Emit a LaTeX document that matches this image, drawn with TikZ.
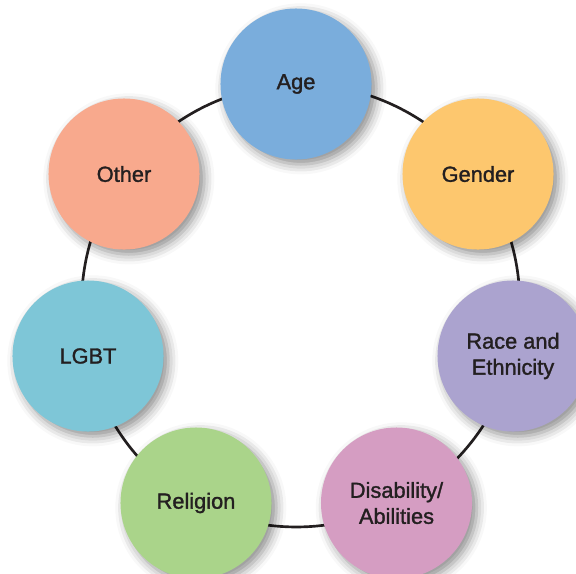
\documentclass[tikz,border=0pt]{standalone}
\usepackage{fontspec}
\setmainfont{Liberation Sans}
\newfontfamily\bubblefont{Liberation Sans}[FakeBold=1.4]
\usetikzlibrary{shadows.blur,backgrounds}
\definecolor{inkcol}{HTML}{231F20}
\definecolor{agecol}{HTML}{7AADDC}
\definecolor{gendercol}{HTML}{FDC76E}
\definecolor{racecol}{HTML}{ABA3CF}
\definecolor{disabcol}{HTML}{D59DC2}
\definecolor{religcol}{HTML}{AAD48A}
\definecolor{lgbtcol}{HTML}{7EC6D7}
\definecolor{othercol}{HTML}{F8A98D}

\begin{document}
\begin{tikzpicture}[x=0.025cm, y=-0.025cm,
    bubble/.style={circle, minimum size=3.775cm, inner sep=0pt, align=center, text=inkcol,
      font=\bubblefont\fontsize{15.5}{18.5}\selectfont,
      blur shadow={shadow xshift=0.12cm, shadow yshift=-0.12cm, shadow blur radius=0.25cm, shadow opacity=45}},
    ring/.style={line width=1.9pt, draw=inkcol, looseness=0.9}]
    \useasboundingbox (0,0) rectangle (576,573);

    \node[bubble, fill=agecol] (age) at (296,84) {Age};
    \node[bubble, fill=gendercol] (gender) at (478,174) {Gender};
    \node[bubble, fill=racecol] (race) at (513,356) {Race and\\Ethnicity};
    \node[bubble, fill=disabcol] (disab) at (396.5,503) {Disability/\\Abilities};
    \node[bubble, fill=religcol] (relig) at (196,503) {Religion};
    \node[bubble, fill=lgbtcol] (lgbt) at (88,356) {LGBT};
    \node[bubble, fill=othercol] (other) at (124,174) {Other};

    % ring runs behind the bubbles
    \begin{scope}[on background layer]
        \draw[ring] (age.center) to[bend left=27] (gender.center);
        \draw[ring] (gender.center) to[bend left=25] (race.center);
        \draw[ring] (race.center) to[bend left=25] (disab.center);
        \draw[ring] (disab.center) to[bend left=27] (relig.center);
        \draw[ring] (relig.center) to[bend left=25] (lgbt.center);
        \draw[ring] (lgbt.center) to[bend left=25] (other.center);
        \draw[ring] (other.center) to[bend left=26] (age.center);
    \end{scope}
\end{tikzpicture}
\end{document}
